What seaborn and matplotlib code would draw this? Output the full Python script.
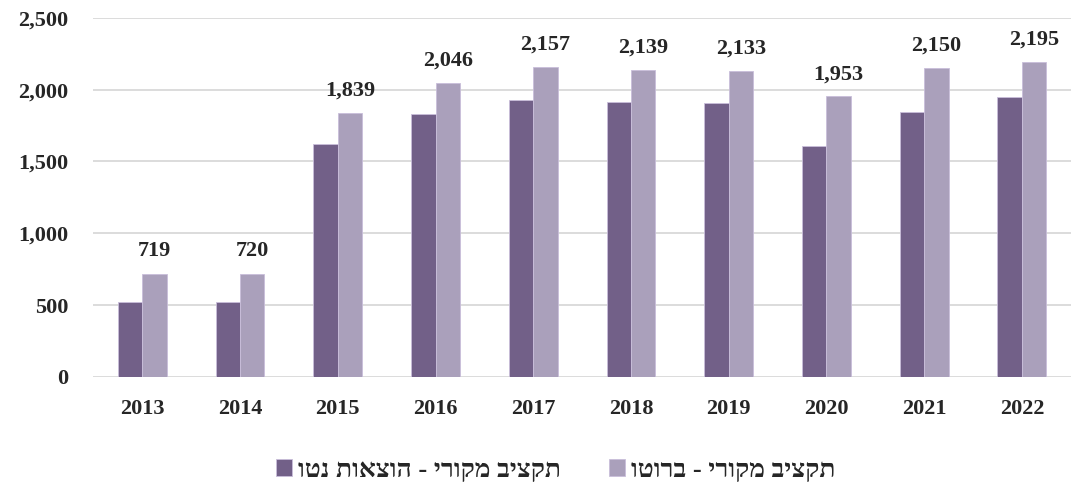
import pandas as pd
import matplotlib.pyplot as plt
import seaborn as sns
from matplotlib.ticker import FuncFormatter

years = ["2013", "2014", "2015", "2016", "2017", "2018", "2019", "2020", "2021", "2022"]
net = [522, 525, 1623, 1831, 1929, 1915, 1910, 1609, 1845, 1950]
gross = [719, 720, 1839, 2046, 2157, 2139, 2133, 1953, 2150, 2195]

label_net = "תקציב מקורי - הוצאות נטו"
label_gross = "תקציב מקורי - ברוטו"
# matplotlib has no bidi support: reverse the Hebrew strings for display
disp_net = label_net[::-1]
disp_gross = label_gross[::-1]

df = pd.DataFrame({
    "year": years * 2,
    "value": net + gross,
    "series": [disp_net] * len(years) + [disp_gross] * len(years),
})

sns.set_style("white")
plt.rcParams["font.family"] = ["Liberation Serif", "DejaVu Sans"]
plt.rcParams["font.weight"] = "bold"

fig = plt.figure(figsize=(10.74, 4.82), dpi=100)
ax = fig.add_axes([0.087, 0.218, 0.91, 0.745])

sns.barplot(
    data=df, x="year", y="value", hue="series",
    palette=["#71598F", "#A99BC0"], width=0.5, gap=0,
    edgecolor="#C9BEDA", linewidth=0.6, ax=ax,
)

# labels above the gross bars
for i, v in enumerate(gross):
    ax.text(i + 0.125, v + 85, f"{v:,}", ha="center", va="bottom",
            fontsize=16, fontweight="bold")

ax.set_ylim(0, 2500)
ax.set_xlim(-0.5, 9.5)
ax.set_yticks(range(0, 2501, 500))
ax.yaxis.set_major_formatter(FuncFormatter(lambda v, p: f"{int(v):,}"))
ax.grid(axis="y", color="#D9D9D9", linewidth=1.3)
ax.set_axisbelow(True)
for s in ax.spines.values():
    s.set_visible(False)
ax.tick_params(axis="both", length=0, labelsize=16)
ax.tick_params(axis="y", pad=18)
ax.tick_params(axis="x", pad=16)
for t in ax.get_xticklabels() + ax.get_yticklabels():
    t.set_fontweight("bold")
ax.set_xlabel("")
ax.set_ylabel("")

ax.legend(
    loc="center", bbox_to_anchor=(0.473, -0.26), ncol=2, frameon=False,
    fontsize=19, handlelength=0.6, handleheight=0.6, handletextpad=0.25,
    columnspacing=1.8,
)

fig.savefig("out.png", dpi=100)
